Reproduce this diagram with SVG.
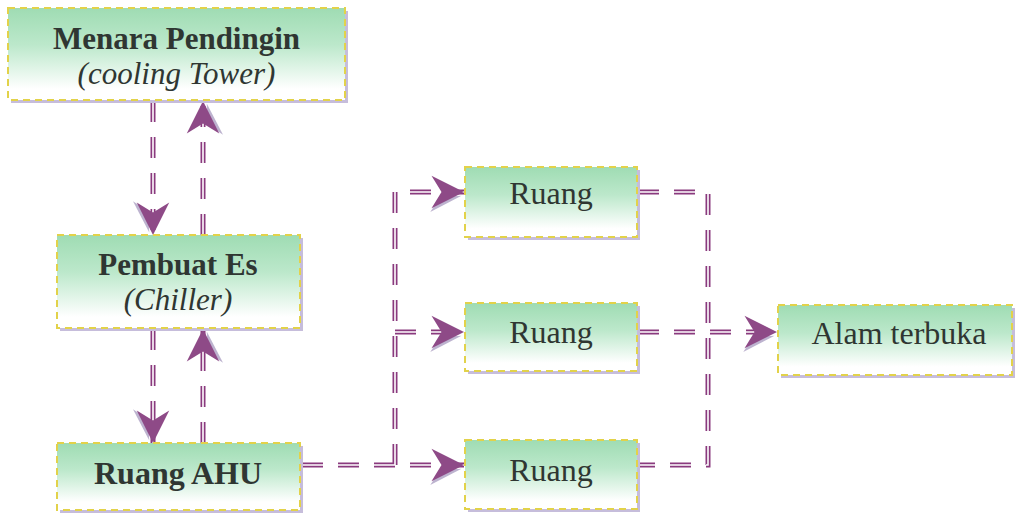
<svg xmlns="http://www.w3.org/2000/svg" xmlns:xlink="http://www.w3.org/1999/xlink" width="1017" height="516" viewBox="0 0 1017 516">
  <style>
    .shadow { fill: #c6bddb; }
    .box { fill: url(#boxFill); stroke: #e2d24a; stroke-width: 2; stroke-dasharray: 7 5; }
    .title { font-family: "Liberation Serif", "Times New Roman", serif; font-size: 32px; fill: #2f3632; text-anchor: middle; }
    .two { font-size: 31px; }
    .bold { font-weight: bold; }
    .ital { font-style: italic; }
    .wire-out { fill: none; stroke: #8a3a7e; stroke-width: 5; stroke-dasharray: 21 15; }
    .wire-in { fill: none; stroke: #ffffff; stroke-width: 1.6; stroke-dasharray: 21 15; }
    .wire-tip { fill: none; stroke: none; }
  </style>
  <defs>
    <linearGradient id="boxFill" x1="0" y1="0" x2="0" y2="1">
      <stop offset="0" stop-color="#9fdcb3"/>
      <stop offset="0.4" stop-color="#bce8cb"/>
      <stop offset="0.88" stop-color="#ffffff"/>
    </linearGradient>
    <marker id="arrow" markerUnits="userSpaceOnUse" markerWidth="40" markerHeight="40" viewBox="-30 -16 32 32" refX="0" refY="0" orient="auto" overflow="visible">
      <path d="M-2,3 L-27,16 L-19,4 Z" fill="#bdb3cf"/>
      <path d="M0,0 L-26,-13 L-18,0 L-26,13 Z" fill="#8e4a87"/>
    </marker>
    <path id="p1" d="M153,101 V235"/>
    <path id="p2" d="M203,235 V101"/>
    <path id="p3" d="M153,329 V443"/>
    <path id="p4" d="M203,443 V329"/>
    <path id="pA" d="M302,465 H464"/>
    <path id="pB" d="M395,465 V192 H464"/>
    <path id="pC" d="M395,332 H464"/>
    <path id="pD" d="M638,192 H708 V465 H638"/>
    <path id="pE" d="M638,332 H777"/>
  </defs>

  <!-- connectors: purple double dashed lines with stealth arrowheads -->
  <g id="connectors">
    <g class="wire-out">
      <use xlink:href="#p1"/><use xlink:href="#p2"/><use xlink:href="#p3"/><use xlink:href="#p4"/>
      <use xlink:href="#pA"/><use xlink:href="#pB"/><use xlink:href="#pC"/><use xlink:href="#pD"/><use xlink:href="#pE"/>
    </g>
    <g class="wire-in">
      <use xlink:href="#p1"/><use xlink:href="#p2"/><use xlink:href="#p3"/><use xlink:href="#p4"/>
      <use xlink:href="#pA"/><use xlink:href="#pB"/><use xlink:href="#pC"/><use xlink:href="#pD"/><use xlink:href="#pE"/>
    </g>
    <g class="wire-tip" marker-end="url(#arrow)">
      <use xlink:href="#p1"/><use xlink:href="#p2"/><use xlink:href="#p3"/><use xlink:href="#p4"/>
      <use xlink:href="#pA"/><use xlink:href="#pB"/><use xlink:href="#pC"/><use xlink:href="#pE"/>
    </g>
  </g>

  <g id="cooling-tower">
    <rect class="shadow" x="11" y="11" width="337" height="92"/>
    <rect class="box" x="8" y="8" width="337" height="92"/>
    <text class="title two bold" x="176.5" y="49">Menara Pendingin</text>
    <text class="title two ital" x="176.5" y="84">(cooling Tower)</text>
  </g>

  <g id="chiller">
    <rect class="shadow" x="60" y="238" width="243" height="93"/>
    <rect class="box" x="57" y="235" width="243" height="93"/>
    <text class="title two bold" x="178" y="275">Pembuat Es</text>
    <text class="title two ital" x="178" y="310">(Chiller)</text>
  </g>

  <g id="ahu">
    <rect class="shadow" x="60" y="446" width="243" height="67"/>
    <rect class="box" x="57" y="443" width="243" height="67"/>
    <text class="title bold" x="178" y="484">Ruang AHU</text>
  </g>

  <g id="room-1">
    <rect class="shadow" x="468" y="170" width="172" height="70"/>
    <rect class="box" x="465" y="167" width="172" height="70"/>
    <text class="title" x="551" y="204">Ruang</text>
  </g>

  <g id="room-2">
    <rect class="shadow" x="468" y="306" width="172" height="68"/>
    <rect class="box" x="465" y="303" width="172" height="68"/>
    <text class="title" x="551" y="343">Ruang</text>
  </g>

  <g id="room-3">
    <rect class="shadow" x="468" y="443" width="172" height="69"/>
    <rect class="box" x="465" y="440" width="172" height="69"/>
    <text class="title" x="551" y="481">Ruang</text>
  </g>

  <g id="outdoors">
    <rect class="shadow" x="781" y="308" width="234" height="70"/>
    <rect class="box" x="778" y="305" width="234" height="70"/>
    <text class="title" x="899" y="344">Alam terbuka</text>
  </g>
</svg>
